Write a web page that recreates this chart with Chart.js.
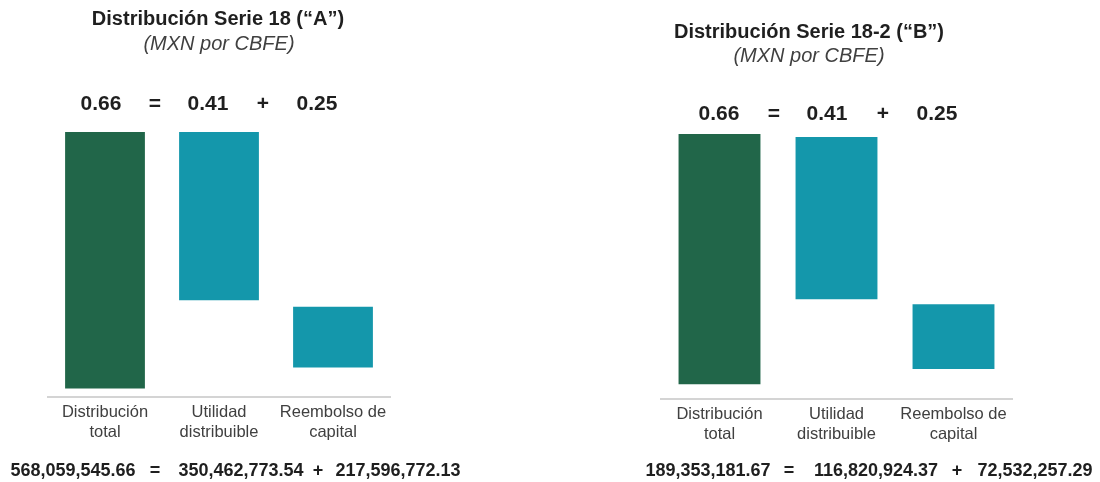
<!DOCTYPE html>
<html>
<head>
<meta charset="utf-8">
<script src="https://cdn.jsdelivr.net/npm/chart.js@4"></script>
<style>
  body { margin: 0; background: #fff; font-family: "Liberation Sans", Arial, sans-serif; }
  #wrap { position: relative; width: 1100px; height: 482px; overflow: hidden; }
  canvas { position: absolute; top: 0; }
  .t { position: absolute; transform: translate(-50%, -50%); white-space: nowrap; }
  .title { font-weight: bold; font-size: 20px; color: #1f1f1f; }
  .sub { font-style: italic; font-size: 20px; color: #404040; }
  .eq { font-weight: bold; font-size: 21px; color: #1f1f1f; }
  .tot { font-weight: bold; font-size: 18px; color: #1f1f1f; }
</style>
</head>
<body>
<div id="wrap">
  <canvas id="chartA" width="550" height="482" style="left:0"></canvas>
  <canvas id="chartB" width="550" height="482" style="left:550px"></canvas>
</div>
<script>
const categories = [["Distribución", "total"], ["Utilidad", "distribuible"], ["Reembolso de", "capital"]];
const titles = ["Distribución Serie 18 (“A”)", "Distribución Serie 18-2 (“B”)"];
const subtitle = "(MXN por CBFE)";

// bar extents (start, end) as drawn in the picture
const barsA = [[0, 0.66], [0.227, 0.66], [0.054, 0.21]];
const barsB = [[0, 0.66], [0.224, 0.652], [0.04, 0.211]];

// per-CBFE amounts shown above the bars
const perCbfeA = ["0.66", "0.41", "0.25"];
const perCbfeB = ["0.66", "0.41", "0.25"];

// totals shown under the charts
const totalsA = ["568,059,545.66", "350,462,773.54", "217,596,772.13"];
const totalsB = ["189,353,181.67", "116,820,924.37", "72,532,257.29"];

const barColors = ["#216649", "#1497ab", "#1497ab"];

const wrap = document.getElementById("wrap");
function txt(cls, s, x, y) {
    const d = document.createElement("div");
    d.className = "t " + cls;
    d.textContent = s;
    d.style.left = x + "px";
    d.style.top = y + "px";
    wrap.appendChild(d);
}

// headings
txt("title", titles[0], 218, 18);
txt("sub", subtitle, 219, 43);
txt("title", titles[1], 809, 31);
txt("sub", subtitle, 809, 55);

// equations above bars
[[perCbfeA, [101, 208, 317], [155, 263], 103],
 [perCbfeB, [719, 827, 937], [774, 883], 113]].forEach(([vals, xs, ops, y]) => {
    vals.forEach((v, i) => txt("eq", v, xs[i], y));
    txt("eq", "=", ops[0], y);
    txt("eq", "+", ops[1], y);
});

// totals row
[[totalsA, [73, 241, 398], [155, 318]],
 [totalsB, [708, 876, 1035], [789, 957]]].forEach(([vals, xs, ops]) => {
    vals.forEach((v, i) => txt("tot", v, xs[i], 470));
    txt("tot", "=", ops[0], 470);
    txt("tot", "+", ops[1], 470);
});

function makeChart(id, bars, yMin, pad) {
    new Chart(document.getElementById(id).getContext("2d"), {
        type: "bar",
        data: {
            labels: categories,
            datasets: [{
                data: bars,
                backgroundColor: barColors,
                barPercentage: 0.7,
                categoryPercentage: 1,
                borderSkipped: false
            }]
        },
        options: {
            responsive: false,
            animation: false,
            layout: { padding: pad },
            plugins: { legend: { display: false }, tooltip: { enabled: false } },
            scales: {
                x: {
                    grid: { display: false, drawTicks: false },
                    border: { display: true, color: "#d4d4d4", width: 2 },
                    ticks: {
                        padding: 5,
                        color: "#404040",
                        font: { family: "'Liberation Sans', Arial, sans-serif", size: 16.5, lineHeight: 1.2 }
                    }
                },
                y: { display: false, min: yMin, max: 0.66 }
            }
        }
    });
}

makeChart("chartA", barsA, -0.023, { top: 132, bottom: 35, left: 48, right: 160 });
makeChart("chartB", barsB, -0.040, { top: 134, bottom: 33, left: 111, right: 88 });
</script>
</body>
</html>
